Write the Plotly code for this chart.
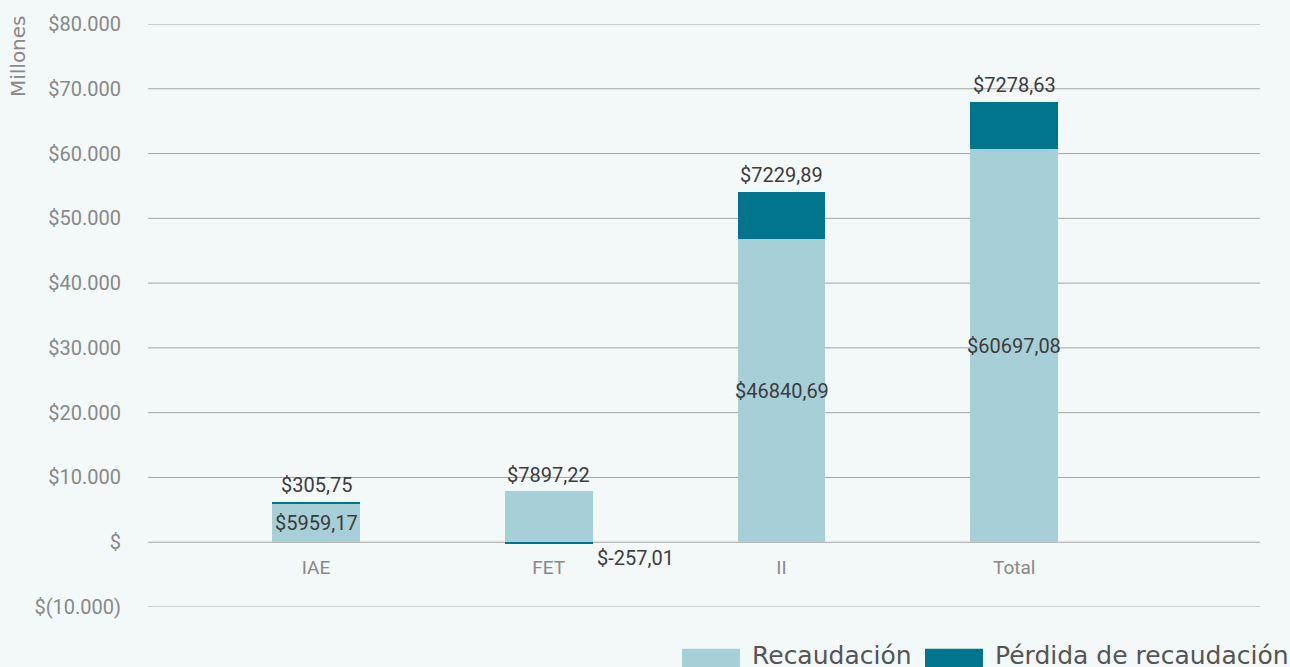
import plotly.graph_objects as go

categorias = ['IAE', 'FET', 'II', 'Total']
recaudacion = [5959.17, 7897.22, 46840.69, 60697.08]
perdida = [305.75, -257.01, 7229.89, 7278.63]

y_ticks = [-10000, 0, 10000, 20000, 30000, 40000, 50000, 60000, 70000, 80000]
y_ticktext = ['$(10.000)', '$', '$10.000', '$20.000', '$30.000', '$40.000',
              '$50.000', '$60.000', '$70.000', '$80.000']

COLOR_REC = '#a7cfd7'
COLOR_PER = '#00758d'
BG = '#f3f8f8'
GRID = '#a4a4a4'

W, H = 1290, 667
M_L, M_R, M_T, M_B = 148, 30, 22, 60
Y_MIN, Y_MAX = -10000, 80000


def fmt(v):
    return '$' + f'{v:.2f}'.replace('.', ',')


def px_x(p):
    return (p - M_L) / (W - M_L - M_R)


def px_y(p):
    return (H - M_B - p) / (H - M_T - M_B)


fig = go.Figure()

# lineas de cuadricula (dibujadas a mano para que salgan tambien en los extremos)
for t in y_ticks:
    fig.add_shape(type='line', xref='paper', yref='y', x0=0, x1=1, y0=t, y1=t,
                  line=dict(color=GRID, width=1), layer='below')

fig.add_trace(go.Bar(x=categorias, y=recaudacion, name='Recaudación',
                     marker=dict(color=COLOR_REC, line_width=0), width=0.377))
fig.add_trace(go.Bar(x=categorias, y=perdida, name='Pérdida de recaudación',
                     marker=dict(color=COLOR_PER, line_width=0), width=0.377))

lbl_font = dict(family='Roboto', size=20, color='#3c3c3c')

# etiquetas de datos
for i, cat in enumerate(categorias):
    r, p = recaudacion[i], perdida[i]
    if p < 0:
        fig.add_annotation(x=cat, y=r, text=fmt(r), showarrow=False,
                           yanchor='bottom', yshift=2, font=lbl_font)
        fig.add_annotation(x=i + 0.19, y=p, text=fmt(p), showarrow=False,
                           xanchor='left', yanchor='top', xshift=2, font=lbl_font)
    else:
        fig.add_annotation(x=cat, y=r / 2, text=fmt(r), showarrow=False,
                           font=lbl_font)
        fig.add_annotation(x=cat, y=r + p, text=fmt(p), showarrow=False,
                           yanchor='bottom', yshift=3, font=lbl_font)

# titulo del eje y
fig.add_annotation(xref='paper', yref='paper', x=px_x(18), y=px_y(11),
                   text='Millones', textangle=-90, showarrow=False,
                   xanchor='center', yanchor='top',
                   font=dict(family='DejaVu Sans', size=20, color='#888888'))

# leyenda manual
legend_items = [('Recaudación', COLOR_REC, 682, 740),
                ('Pérdida de recaudación', COLOR_PER, 925, 983)]
for name, col, x0, x1 in legend_items:
    fig.add_shape(type='rect', xref='paper', yref='paper',
                  x0=px_x(x0), x1=px_x(x1), y0=px_y(668), y1=px_y(649),
                  fillcolor=col, line_width=0)
    fig.add_annotation(xref='paper', yref='paper', x=px_x(x1 + 10), y=px_y(656),
                       text=name, showarrow=False, xanchor='left', yanchor='middle',
                       font=dict(family='DejaVu Sans', size=25, color='#555555'))

zero_pos = (0 - Y_MIN) / (Y_MAX - Y_MIN)

fig.update_layout(
    width=W, height=H,
    barmode='relative', bargap=0,
    showlegend=False,
    paper_bgcolor=BG, plot_bgcolor=BG,
    margin=dict(l=M_L, r=M_R, t=M_T, b=M_B),
    xaxis=dict(range=[-0.722, 4.056], showgrid=False, showline=False,
               zeroline=False, ticks='', anchor='free', position=zero_pos,
               ticklabelstandoff=12,
               tickfont=dict(family='Roboto', size=19, color='#888888')),
    yaxis=dict(range=[Y_MIN, Y_MAX], tickvals=y_ticks, ticktext=y_ticktext,
               showgrid=False, zeroline=False,
               ticks='', ticklabelstandoff=26,
               tickfont=dict(family='Roboto', size=20, color='#888888')),
)

fig.write_html('out.html', config={'displayModeBar': False},
               post_script="document.body.style.margin='0';")
